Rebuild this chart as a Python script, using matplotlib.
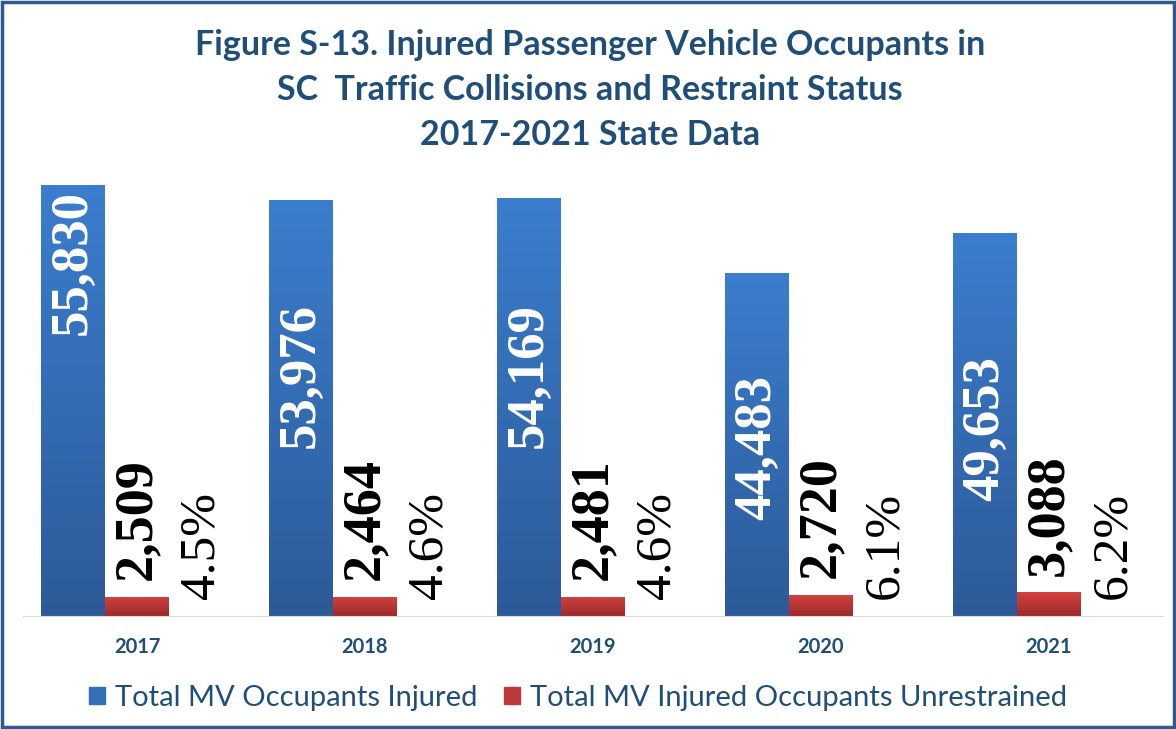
#! /usr/bin/env python
# coding: utf-8
"""Injured passenger vehicle occupants in SC traffic collisions, 2017-2021."""

import numpy as np
import matplotlib
matplotlib.use('Agg')
import matplotlib.pyplot as plt
from matplotlib.patches import Rectangle
from matplotlib.colors import LinearSegmentedColormap

years = ['2017', '2018', '2019', '2020', '2021']
injured = [55830, 53976, 54169, 44483, 49653]
unrestrained = [2509, 2464, 2481, 2720, 3088]
pct_labels = ['4.5%', '4.6%', '4.6%', '6.1%', '6.2%']
# where the white value sits inside each blue bar (fraction of bar height)
inner_label_pos = [0.82, 0.577, 0.575, 0.49, 0.49]

title_lines = ['Figure S-13. Injured Passenger Vehicle Occupants in',
               'SC  Traffic Collisions and Restraint Status',
               '2017-2021 State Data']

DARK_BLUE = '#1F4E79'
BLUE_CMAP = LinearSegmentedColormap.from_list('b', ['#2C5A98', '#3B7ECE'])
RED_CMAP = LinearSegmentedColormap.from_list('r', ['#9C2929', '#D3433F'])


def gradient_fill(ax, bars, cmap):
    """Paint a vertical gradient inside every bar."""
    grad = np.linspace(0, 1, 256).reshape(-1, 1)
    for bar in bars:
        x0, y0 = bar.get_x(), bar.get_y()
        w, h = bar.get_width(), bar.get_height()
        im = ax.imshow(grad, cmap=cmap, origin='lower', aspect='auto',
                       extent=(x0, x0 + w, y0, y0 + h), zorder=2)
        im.set_clip_path(bar)
        bar.set_facecolor('none')


fig = plt.figure(figsize=(11.76, 7.29), dpi=100)
ax = fig.add_axes([23 / 1176, 1 - 616 / 729, 1140 / 1176, 466 / 729])

x = np.arange(len(years))
w = 0.28
b1 = ax.bar(x - w, injured, w, color='#3470B8', zorder=2)
b2 = ax.bar(x, unrestrained, w, color='#C0393A', zorder=2)
gradient_fill(ax, b1, BLUE_CMAP)
gradient_fill(ax, b2, RED_CMAP)

serif = 'Liberation Serif'
for i in range(len(years)):
    ax.text(x[i] - w, injured[i] * inner_label_pos[i], f'{injured[i]:,}',
            rotation=90, ha='center', va='center', color='white',
            fontsize=38, fontweight='bold', family=serif, zorder=3)
    ax.annotate(f'{unrestrained[i]:,}', (x[i], unrestrained[i]),
                xytext=(0, 12), textcoords='offset points', rotation=90,
                ha='center', va='bottom', fontsize=39, fontweight='bold',
                family=serif, color='black')
    ax.annotate(pct_labels[i], (x[i] + w, 0), xytext=(0, 12),
                textcoords='offset points', rotation=90, ha='center',
                va='bottom', fontsize=37, family=serif, color='black')

ax.set_xlim(-0.5, len(years) - 0.5)
ax.set_ylim(0, 60400)
ax.set_xticks(x)
ax.set_xticklabels(years, fontsize=14.5, fontweight='bold', color=DARK_BLUE, family='Lato')
ax.tick_params(axis='x', length=0, pad=15)
ax.set_yticks([])
for side in ['top', 'left', 'right']:
    ax.spines[side].set_visible(False)
ax.spines['bottom'].set_color('#D9D9D9')

ax.legend(handles=[Rectangle((0, 0), 1, 1, color='#3470B8'),
                   Rectangle((0, 0), 1, 1, color='#C0393A')],
          labels=['Total MV Occupants Injured', 'Total MV Injured Occupants Unrestrained'],
          loc='center', bbox_to_anchor=(578 / 1176, 1 - 698 / 729),
          bbox_transform=fig.transFigure, ncol=2, frameon=False,
          prop={'family': 'Lato', 'size': 21}, labelcolor=DARK_BLUE,
          handlelength=0.55, handleheight=0.55, handletextpad=0.35, columnspacing=0.9)

for k, line in enumerate(title_lines):
    fig.text(590 / 1176, 1 - (55 + 45 * k) / 729, line, ha='center', va='baseline',
             fontsize=24.5, fontweight='bold', color=DARK_BLUE, family='Lato')

fig.patches.append(Rectangle((0.002, 0.003), 0.996, 0.994, transform=fig.transFigure,
                             fill=False, edgecolor='#2F5A8F', linewidth=2.5))

fig.savefig('out.png', dpi=100)
